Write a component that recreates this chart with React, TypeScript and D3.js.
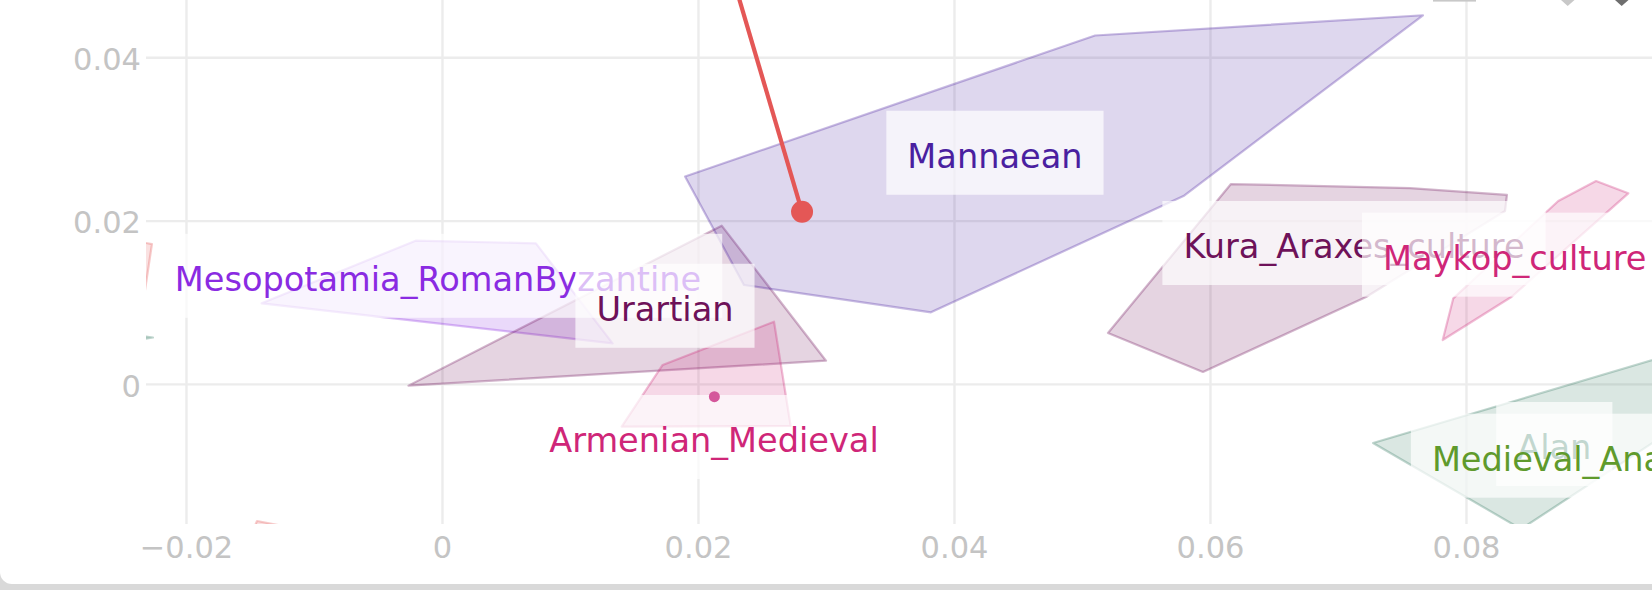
import React, { useEffect, useRef } from "react";
import * as d3 from "d3";

const W = 1652;
const H = 590;

// axis ticks
const xTicks = [-0.02, 0, 0.02, 0.04, 0.06, 0.08];
const yTicks = [0, 0.02, 0.04];

// convex hulls of the groups (PC1, PC2)
const alanHull: [number, number][] = [
  [0.0727, -0.00718], [0.10215, 0.00654], [0.10215, 0.00066], [0.08426, -0.01771],
];
const redLeftHull: [number, number][] = [
  [-0.02676, 0.0183], [-0.0227, 0.01719], [-0.02324, 0.01156], [-0.02715, 0.01034],
];
const tealLeftHull: [number, number][] = [
  [-0.02676, 0.00666], [-0.02262, 0.00574], [-0.02676, 0.0047],
];
const redBottomHull: [number, number][] = [
  [-0.01449, -0.01673], [-0.00879, -0.01845], [-0.01582, -0.02151],
];
const mesopotamiaHull: [number, number][] = [
  [-0.01413, 0.00993], [-0.0021, 0.0176], [0.0073, 0.01728], [0.01329, 0.00503],
];
const urartianHull: [number, number][] = [
  [-0.00266, -0.00015], [0.02181, 0.01944], [0.02996, 0.0029],
];
const armenianHull: [number, number][] = [
  [0.0172, 0.00238], [0.0259, 0.00768], [0.0272, -0.00509], [0.014, -0.00518],
];
const mannaeanHull: [number, number][] = [
  [0.01895, 0.02546], [0.05098, 0.04273], [0.0766, 0.04521], [0.05789, 0.02307],
  [0.03816, 0.00883], [0.02355, 0.01217],
];
const kuraHull: [number, number][] = [
  [0.0616, 0.02454], [0.07559, 0.02405], [0.08316, 0.0232], [0.08301, 0.02124],
  [0.07215, 0.0107], [0.05941, 0.00152], [0.05199, 0.0063],
];
const maykopHull: [number, number][] = [
  [0.09012, 0.02491], [0.09264, 0.0234], [0.08353, 0.01074], [0.07814, 0.00544],
  [0.07897, 0.01054], [0.08717, 0.02246],
];

// trajectory line and points
const trailX = [0.02171, 0.02809];
const trailY = [0.055, 0.02114];
const pointX = [0.02809, 0.02124];
const pointY = [0.02114, -0.00151];

// labels (centre of annotation)
const labelText = [
  "Mannaean",
  "Mesopotamia_RomanByzantine",
  "Urartian",
  "Armenian_Medieval",
  "Kura_Araxes_culture",
  "Maykop_culture",
  "Alan",
  "Medieval_Anatolia",
];
const labelX = [0.04316, -0.00035, 0.01738, 0.02121, 0.07121, 0.08377, 0.08686, 0.08922];
const labelY = [0.02837, 0.0133, 0.00963, -0.00644, 0.01732, 0.01589, -0.0073, -0.00873];

// styles
const hullList = [
  { pts: alanHull, color: "rgb(50,120,95)" },
  { pts: redLeftHull, color: "rgb(228,87,86)" },
  { pts: tealLeftHull, color: "rgb(50,120,95)" },
  { pts: redBottomHull, color: "rgb(228,87,86)" },
  { pts: mesopotamiaHull, color: "rgb(138,43,226)" },
  { pts: urartianHull, color: "rgb(110,18,89)" },
  { pts: armenianHull, color: "rgb(204,40,120)" },
  { pts: mannaeanHull, color: "rgb(74,31,160)" },
  { pts: kuraHull, color: "rgb(110,18,89)" },
  { pts: maykopHull, color: "rgb(204,40,120)" },
];
const labelColor = [
  "#4a1fa0", "#8a2be2", "#6e1259", "#cf2678", "#6e1259", "#cf2678", "#32785f", "#5f9a2c",
];
const pointColor = ["#e45756", "#d4579b"];
const pointR = [11, 5.5];

export default function App() {
  const ref = useRef<SVGSVGElement>(null);

  useEffect(() => {
    const svg = d3.select(ref.current);
    svg.selectAll("*").remove();

    const x = d3.scaleLinear().domain([-0.02, 0.08]).range([186.5, 1466.5]);
    const y = d3.scaleLinear().domain([0, 0.04]).range([384.4, 57.8]);
    const plotL = 146, plotB = 524;

    // card
    svg.append("rect").attr("width", W).attr("height", H).attr("fill", "#d9d9d9");
    svg.append("rect").attr("x", 0).attr("y", -40).attr("width", W + 60).attr("height", 624)
      .attr("rx", 12).attr("fill", "#ffffff");

    const defs = svg.append("defs");
    defs.append("clipPath").attr("id", "plotclip").append("rect")
      .attr("x", plotL).attr("y", -100).attr("width", W + 100).attr("height", plotB + 100);

    const font = "'DejaVu Sans', Verdana, sans-serif";

    // grid
    const grid = svg.append("g").attr("clip-path", "url(#plotclip)");
    grid.selectAll("line.vx").data(xTicks).join("line")
      .attr("x1", (d) => x(d)).attr("x2", (d) => x(d)).attr("y1", -10).attr("y2", plotB)
      .attr("stroke", "#ececec").attr("stroke-width", 2.4);
    grid.selectAll("line.hy").data(yTicks).join("line")
      .attr("x1", plotL).attr("x2", W + 50).attr("y1", (d) => y(d)).attr("y2", (d) => y(d))
      .attr("stroke", "#ececec").attr("stroke-width", 2.4);

    const fmt = (d: number) => (d === 0 ? "0" : d3.format(".2f")(d));
    svg.append("g").selectAll("text").data(xTicks).join("text")
      .attr("x", (d) => x(d)).attr("y", 558).attr("text-anchor", "middle")
      .attr("font-family", font).attr("font-size", 30.5).attr("fill", "#c4c4c4").text(fmt);
    svg.append("g").selectAll("text").data(yTicks).join("text")
      .attr("x", 141).attr("y", (d) => y(d) + 12.2).attr("text-anchor", "end")
      .attr("font-family", font).attr("font-size", 30.5).attr("fill", "#c4c4c4").text(fmt);

    const plot = svg.append("g").attr("clip-path", "url(#plotclip)");
    const lineGen = d3.line<[number, number]>().x((d) => x(d[0])).y((d) => y(d[1]));

    hullList.forEach((h) => {
      plot.append("path").attr("d", lineGen(h.pts) + "Z")
        .attr("fill", h.color).attr("fill-opacity", 0.18)
        .attr("stroke", h.color).attr("stroke-opacity", 0.3).attr("stroke-width", 2.2)
        .attr("stroke-linejoin", "round");
    });

    const trail: [number, number][] = trailX.map((v, i) => [v, trailY[i]]);
    plot.append("path").attr("d", lineGen(trail)).attr("fill", "none")
      .attr("stroke", "#e45756").attr("stroke-width", 4.2);

    // annotations
    const ann = plot.append("g");
    labelText.forEach((t, i) => {
      const g = ann.append("g");
      const cx = x(labelX[i]);
      const cy = y(labelY[i]);
      const rect = g.append("rect").attr("fill", "rgba(255,255,255,0.7)");
      const txt = g.append("text").attr("x", cx).attr("y", cy + 15.2)
        .attr("text-anchor", "middle").attr("font-family", font).attr("font-size", 33.6)
        .attr("fill", labelColor[i]).text(t);
      const w = (txt.node() as SVGTextElement).getComputedTextLength();
      rect.attr("x", cx - w / 2 - 21).attr("y", cy - 42).attr("width", w + 42).attr("height", 84);
    });

    plot.selectAll("circle").data(pointX).join("circle")
      .attr("cx", (d) => x(d)).attr("cy", (_d, i) => y(pointY[i]))
      .attr("r", (_d, i) => pointR[i]).attr("fill", (_d, i) => pointColor[i]);

    // modebar remnants at top right
    svg.append("rect").attr("x", 1433).attr("y", 0).attr("width", 43).attr("height", 1.6).attr("fill", "#c8c8c8");
    svg.append("path").attr("d", "M1561,0L1574.5,0L1567.7,6Z").attr("fill", "#c8c8c8");
    svg.append("path").attr("d", "M1615,0L1628.5,0L1621.7,6Z").attr("fill", "#6e6e6e");
  }, []);

  return (
    <div style={{ position: "fixed", left: 0, top: 0, width: W, height: H, background: "#d9d9d9" }}>
      <svg ref={ref} width={W} height={H} style={{ display: "block" }} />
    </div>
  );
}
